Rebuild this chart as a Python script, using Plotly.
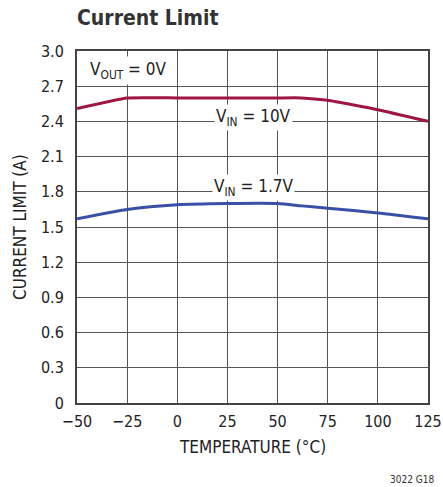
import plotly.graph_objects as go

temp_red = [-50, -25, 0, 25, 50, 62, 75, 100, 125]
cur_10v = [2.51, 2.60, 2.60, 2.60, 2.60, 2.60, 2.58, 2.50, 2.40]

temp_blue = [-50, -25, 0, 25, 50, 62, 75, 100, 125]
cur_1p7v = [1.57, 1.65, 1.69, 1.70, 1.70, 1.68, 1.66, 1.62, 1.57]

x_ticks = [-50, -25, 0, 25, 50, 75, 100, 125]
x_labels = ["\u221250", "\u221225", "0", "25", "50", "75", "100", "125"]
y_ticks = [0, 0.3, 0.6, 0.9, 1.2, 1.5, 1.8, 2.1, 2.4, 2.7, 3.0]
y_labels = ["0", "0.3", "0.6", "0.9", "1.2", "1.5", "1.8", "2.1", "2.4", "2.7", "3.0"]

FONT = "DejaVu Sans Condensed, Liberation Sans Narrow, sans-serif"

fig = go.Figure()
fig.add_trace(go.Scatter(x=temp_red, y=cur_10v, mode="lines",
                         line=dict(color="#9e1740", width=3, shape="spline", smoothing=0.4),
                         showlegend=False, hoverinfo="skip"))
fig.add_trace(go.Scatter(x=temp_blue, y=cur_1p7v, mode="lines",
                         line=dict(color="#3a50a6", width=3, shape="spline", smoothing=0.6),
                         showlegend=False, hoverinfo="skip"))

ann_font = dict(family=FONT, size=17, color="#222")
fig.add_annotation(x=38, y=2.43, text="V<sub>IN</sub> = 10V", showarrow=False,
                   bgcolor="white", font=ann_font, borderpad=1)
fig.add_annotation(x=38, y=1.84, text="V<sub>IN</sub> = 1.7V", showarrow=False,
                   bgcolor="white", font=ann_font, borderpad=1)
fig.add_annotation(x=-45, y=2.83, text="V<sub>OUT</sub> = 0V", showarrow=False,
                   xanchor="left", bgcolor="white", font=ann_font, borderpad=2)

# chart title
fig.add_annotation(xref="paper", yref="paper", x=0, y=1.0, yshift=33, xshift=-2,
                   text="<b>Current Limit</b>", showarrow=False, xanchor="left", yanchor="middle",
                   font=dict(family=FONT, size=21, color="#333"))
# axis titles
fig.add_annotation(xref="paper", yref="paper", x=0.5, y=0, yshift=-44,
                   text="TEMPERATURE (\u00b0C)", showarrow=False, xanchor="center", yanchor="middle",
                   font=dict(family=FONT, size=17, color="#222"))
fig.add_annotation(xref="paper", yref="paper", x=0, y=0.5, xshift=-57, textangle=-90,
                   text="CURRENT LIMIT (A)", showarrow=False, xanchor="center", yanchor="middle",
                   font=dict(family=FONT, size=17, color="#222"))
fig.add_annotation(xref="paper", yref="paper", x=1.0, y=0, yshift=-76, xshift=8,
                   text="3022 G18", showarrow=False, xanchor="right", yanchor="middle",
                   font=dict(family=FONT, size=10, color="#333"))

axis_common = dict(showgrid=True, gridcolor="#555", gridwidth=1.2,
                   showline=True, linecolor="#444", linewidth=2, mirror=True,
                   zeroline=False, ticks="", automargin=False,
                   tickfont=dict(family=FONT, size=16, color="#222"))

fig.update_xaxes(range=[-50, 125], tickvals=x_ticks, ticktext=x_labels,
                 ticklabelstandoff=3, **axis_common)
fig.update_yaxes(range=[0, 3.0], tickvals=y_ticks, ticktext=y_labels,
                 ticklabelstandoff=8, **axis_common)

fig.update_layout(width=443, height=487, margin=dict(l=77, r=15, t=51, b=84),
                  plot_bgcolor="white", paper_bgcolor="white")

fig.write_html("out.html", config={"displayModeBar": False},
               post_script="document.body.style.margin='0';document.body.style.overflow='hidden';")
